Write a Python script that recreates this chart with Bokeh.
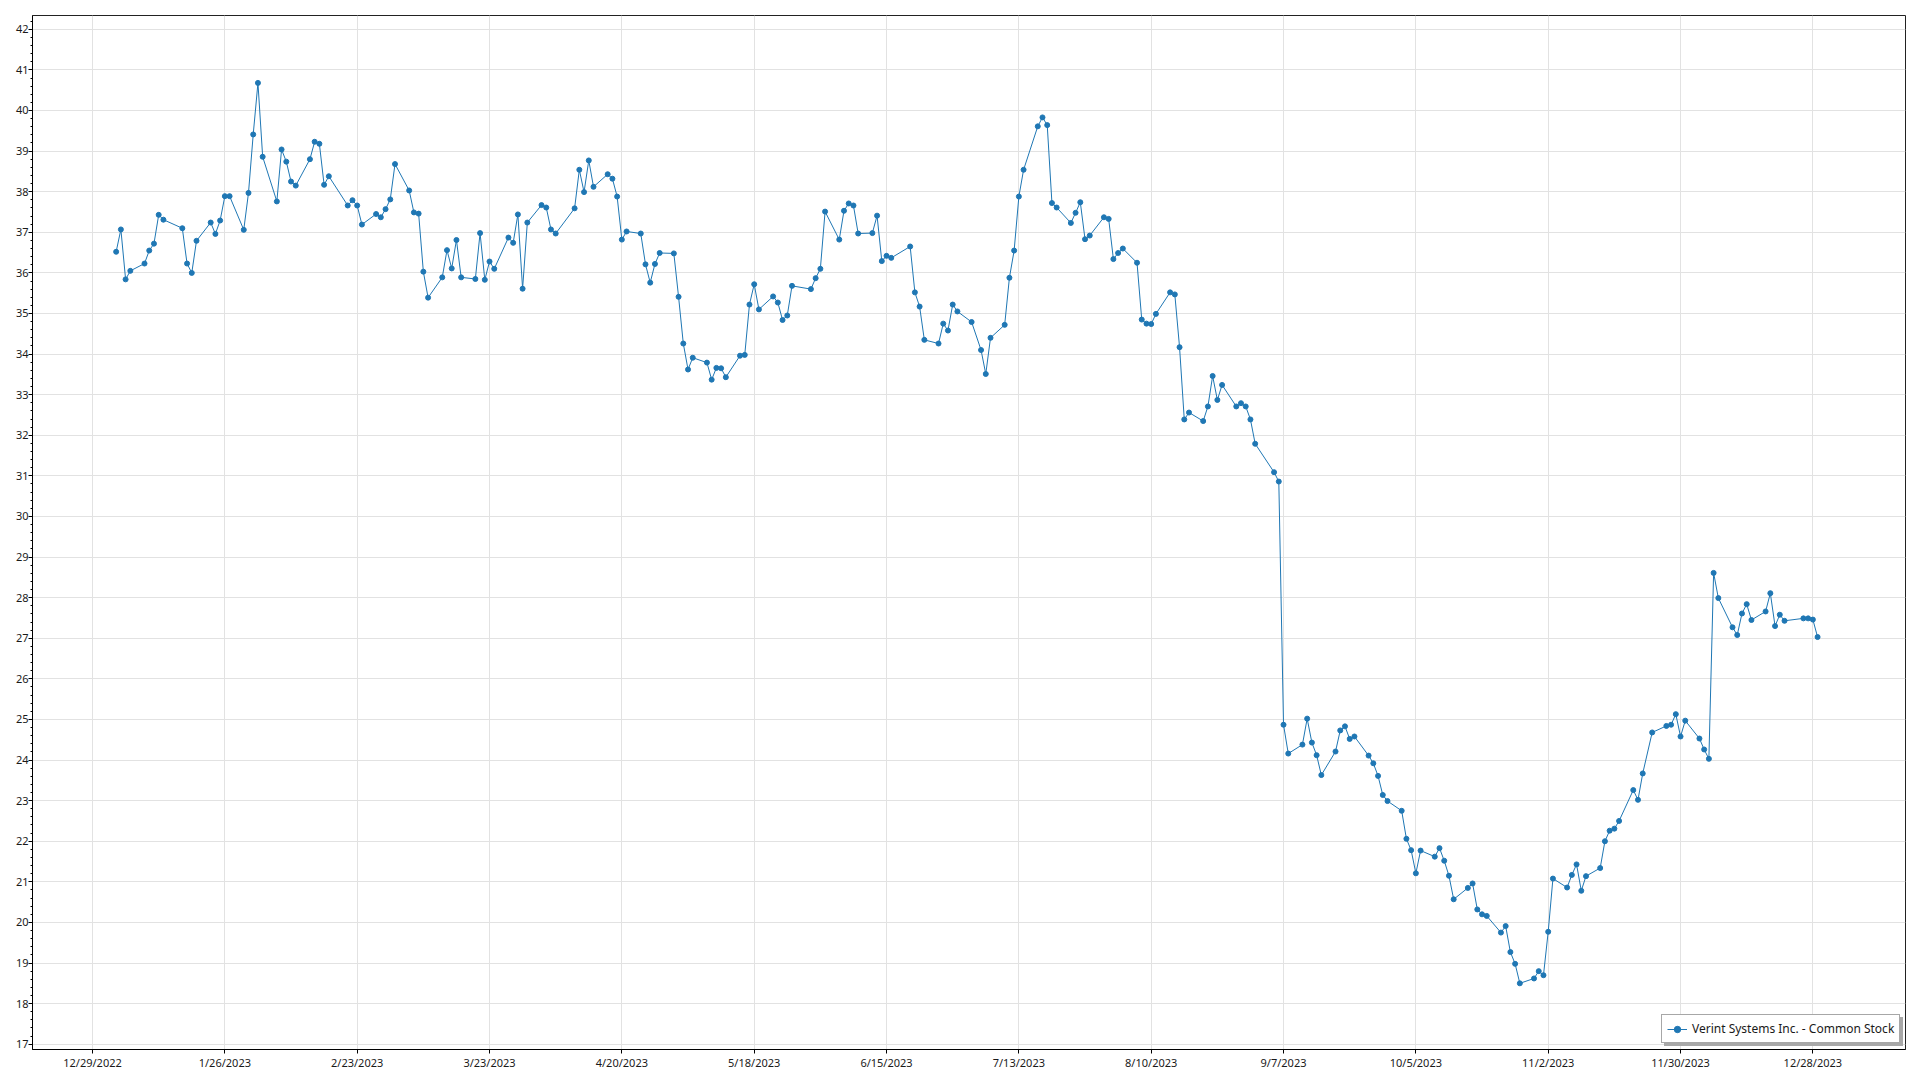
import pandas as pd
from bokeh.plotting import figure
from bokeh.models import Range1d, FixedTicker, Legend, LegendItem, ColumnDataSource
from bokeh.embed import file_html
from bokeh.resources import INLINE

# ---- data -------------------------------------------------------------
series_name = "Verint Systems Inc. - Common Stock"

market_holidays = ["2023-01-02", "2023-01-16", "2023-02-20", "2023-04-07", "2023-05-29",
                   "2023-06-19", "2023-07-04", "2023-09-04", "2023-11-23", "2023-12-25"]
first_day = "2023-01-03"
last_day = "2023-12-29"

close_jan = [36.52, 37.07, 35.84, 36.05, 36.23, 36.55, 36.72, 37.43, 37.31, 37.10,
             36.23, 36.00, 36.79, 37.24, 36.96, 37.29, 37.89, 37.89, 37.06, 37.97]
close_feb = [39.41, 40.68, 38.86, 37.76, 39.04, 38.74, 38.25, 38.15, 38.80, 39.23,
             39.18, 38.17, 38.38, 37.66, 37.79, 37.66, 37.19, 37.45, 37.37]
close_mar = [37.57, 37.81, 38.68, 38.03, 37.49, 37.46, 36.03, 35.39, 35.89, 36.56,
             36.11, 36.81, 35.89, 35.85, 36.98, 35.83, 36.28, 36.10, 36.87, 36.74,
             37.44, 35.61, 37.24]
close_apr = [37.67, 37.61, 37.07, 36.97, 37.59, 38.54, 37.99, 38.77, 38.12, 38.43,
             38.32, 37.88, 36.82, 37.02, 36.97, 36.21, 35.76, 36.22, 36.49]
close_may = [36.48, 35.41, 34.26, 33.62, 33.91, 33.79, 33.37, 33.66, 33.65, 33.43,
             33.96, 33.98, 35.22, 35.72, 35.10, 35.42, 35.27, 34.84, 34.95, 35.68,
             35.60, 35.87]
close_jun = [36.10, 37.51, 36.82, 37.53, 37.71, 37.66, 36.97, 36.98, 37.41, 36.29,
             36.42, 36.37, 36.65, 35.52, 35.17, 34.35, 34.26, 34.75, 34.58, 35.22,
             35.05]
close_jul = [34.79, 34.10, 33.51, 34.40, 34.72, 35.88, 36.55, 37.88, 38.54, 39.61,
             39.83, 39.64, 37.72, 37.61, 37.23, 37.48, 37.74, 36.83, 36.92, 37.37]
close_aug = [37.33, 36.34, 36.49, 36.60, 36.25, 34.85, 34.75, 34.74, 34.99, 35.52,
             35.47, 34.17, 32.39, 32.56, 32.35, 32.71, 33.46, 32.87, 33.24, 32.71,
             32.79, 32.71, 32.39]
close_sep = [31.79, 31.09, 30.86, 24.87, 24.16, 24.38, 25.02, 24.43, 24.12, 23.63,
             24.21, 24.73, 24.83, 24.52, 24.58, 24.11, 23.92, 23.61, 23.14, 22.99]
close_oct = [22.75, 22.06, 21.78, 21.21, 21.77, 21.62, 21.83, 21.52, 21.15, 20.57,
             20.85, 20.96, 20.32, 20.20, 20.16, 19.75, 19.91, 19.27, 18.98, 18.50,
             18.62, 18.80]
close_nov = [18.70, 19.77, 21.08, 20.86, 21.17, 21.43, 20.78, 21.14, 21.34, 22.00,
             22.26, 22.31, 22.50, 23.26, 23.02, 23.67, 24.68, 24.84, 24.87, 25.13,
             24.58]
close_dec = [24.97, 24.53, 24.26, 24.03, 28.61, 27.99, 27.27, 27.08, 27.61, 27.84,
             27.45, 27.66, 28.11, 27.30, 27.58, 27.43, 27.49, 27.49, 27.46, 27.03]

x_tick_labels = ["12/29/2022", "1/26/2023", "2/23/2023", "3/23/2023", "4/20/2023",
                 "5/18/2023", "6/15/2023", "7/13/2023", "8/10/2023", "9/7/2023",
                 "10/5/2023", "11/2/2023", "11/30/2023", "12/28/2023"]
y_tick_values = list(range(17, 43))

# ---- build ------------------------------------------------------------
closes = (close_jan + close_feb + close_mar + close_apr + close_may + close_jun +
          close_jul + close_aug + close_sep + close_oct + close_nov + close_dec)
dates = pd.bdate_range(first_day, last_day, freq="C", holidays=market_holidays)
assert len(dates) == len(closes), (len(dates), len(closes))
src = ColumnDataSource(data=dict(date=dates, close=closes))

tick_ts = pd.to_datetime(x_tick_labels, format="%m/%d/%Y")
tick_ms = [int(t.value // 10**6) for t in tick_ts]
overrides = {ms: lab for ms, lab in zip(tick_ms, x_tick_labels)}

day_ms = 86400000
x_start = tick_ms[0] - 12.7 * day_ms
x_end = tick_ms[0] + 383.6 * day_ms

FONT = "Noto Sans"
BLUE = "#1f77b4"
GRID = "#e2e2e2"

p = figure(width=1920, height=1080, x_axis_type="datetime",
           x_range=Range1d(x_start, x_end), y_range=Range1d(16.87, 42.34),
           output_backend="svg", toolbar_location=None,
           min_border_left=32, min_border_right=15, min_border_top=15, min_border_bottom=31,
           background_fill_color="white", border_fill_color="white")

p.outline_line_color = "#222222"
p.outline_line_width = 1

xt = FixedTicker(ticks=tick_ms)
p.xaxis.ticker = xt
p.xaxis.major_label_overrides = overrides
p.xgrid.ticker = xt

yt = FixedTicker(ticks=y_tick_values,
                 minor_ticks=[17 + i * 0.2 for i in range(0, 127)])
p.yaxis.ticker = yt
p.ygrid.ticker = FixedTicker(ticks=y_tick_values)

for ax in (p.xaxis[0], p.yaxis[0]):
    ax.axis_line_color = "black"
    ax.major_tick_line_color = "black"
    ax.major_tick_in = 0
    ax.major_tick_out = 4
    ax.minor_tick_in = 0
    ax.minor_tick_out = 2
    ax.major_label_text_font = FONT
    ax.major_label_text_font_size = "11px"
    ax.major_label_text_color = "#1a1a1a"
p.yaxis.minor_tick_line_color = "black"
p.xaxis.minor_tick_line_color = None
p.yaxis.major_label_standoff = 0
p.xaxis.major_label_standoff = 1

p.xgrid.grid_line_color = GRID
p.ygrid.grid_line_color = GRID
p.xgrid.grid_line_width = 1
p.ygrid.grid_line_width = 1

line_r = p.line("date", "close", source=src, line_color=BLUE, line_width=1)
pts_r = p.scatter("date", "close", source=src, size=5, marker="circle",
                  fill_color=BLUE, line_color=BLUE)

# legend shadow (drawn first, offset right/down)
shadow = Legend(items=[LegendItem(label=series_name, renderers=[line_r, pts_r])],
                location=(1632, 3), orientation="vertical",
                padding=5, spacing=0, margin=0, label_standoff=5,
                glyph_width=20, glyph_height=16, label_height=16, label_width=202,
                label_text_font=FONT, label_text_font_size="12px", label_text_alpha=0,
                background_fill_color="#a8a8a8", background_fill_alpha=1,
                border_line_color="#a8a8a8", border_line_width=1.5)
p.add_layout(shadow, "center")

legend = Legend(items=[LegendItem(label=series_name, renderers=[line_r, pts_r])],
                location=(1629, 6), orientation="vertical",
                padding=5, spacing=0, margin=0, label_standoff=5,
                glyph_width=20, glyph_height=16, label_height=16, label_width=202,
                label_text_font=FONT, label_text_font_size="12px",
                label_text_color="#1a1a1a",
                background_fill_color="white", background_fill_alpha=1,
                border_line_color="#505050", border_line_width=1.5)
p.add_layout(legend, "center")

open("out.html", "w").write(file_html(p, INLINE))
